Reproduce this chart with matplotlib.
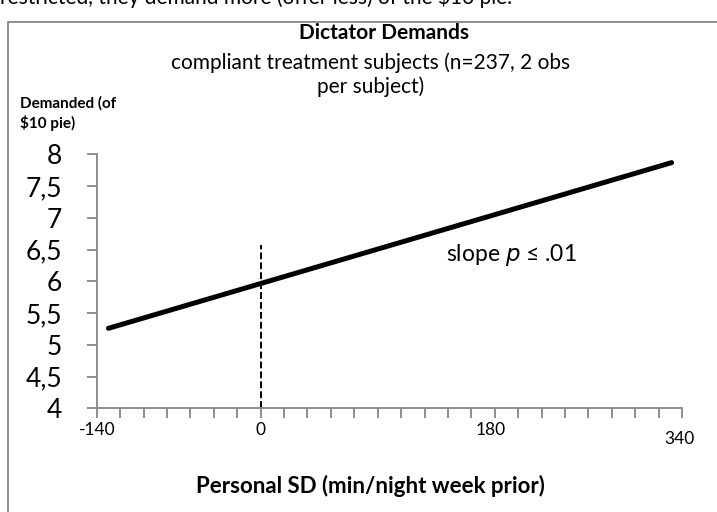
import matplotlib.pyplot as plt
from matplotlib.patches import Rectangle
from matplotlib.transforms import ScaledTranslation

plt.rcParams['font.family'] = ['Lato', 'DejaVu Sans']

# data
fit_x = [-130, 351]
fit_y = [5.26, 7.87]
ref_x = [0, 0]
ref_y = [4, 6.57]

y_ticks = [4, 4.5, 5, 5.5, 6, 6.5, 7, 7.5, 8]
y_labels = ['4', '4,5', '5', '5,5', '6', '6,5', '7', '7,5', '8']
x_major = [-140, 0, 180, 340]
x_labels = ['-140', '0', '180', '340']
x_minor = list(range(-140, 361, 20))

gray = '#868686'

fig = plt.figure(figsize=(7.17, 5.12), dpi=100)
ax = fig.add_axes([0.1349, 0.2025, 0.8165, 0.4960])

ax.plot(fit_x, fit_y, color='black', linewidth=3.6, solid_capstyle='round')
ax.plot(ref_x, ref_y, color='black', linewidth=1.4, linestyle=(0, (3.5, 1.6)))

ax.set_xlim(-140, 360)
ax.set_ylim(4, 8)

ax.set_yticks(y_ticks, y_labels)
ax.set_xticks(x_major, x_labels)
ax.set_xticks(x_minor, minor=True)

for s in ['top', 'right']:
    ax.spines[s].set_visible(False)
for s in ['left', 'bottom']:
    ax.spines[s].set_color(gray)
    ax.spines[s].set_linewidth(1.3)

ax.tick_params(axis='y', which='major', length=7, width=1.3, color=gray,
               labelsize=19, pad=18)
ax.tick_params(axis='x', which='both', length=7, width=1.3, color=gray,
               labelsize=12.5, pad=3)

# the last two x labels sit off their ticks in the original
xl = ax.get_xticklabels()
xl[2].set_transform(xl[2].get_transform() + ScaledTranslation(0.19, 0, fig.dpi_scale_trans))
xl[3].set_transform(xl[3].get_transform() + ScaledTranslation(0.21, -0.09, fig.dpi_scale_trans))

ax.text(158, 6.42, 'slope $\\it{p}$ ≤ .01', fontsize=16.5, va='center', ha='left')

# titles and labels
fig.text(0.536, 0.9355, 'Dictator Demands', fontsize=15, fontweight='bold',
         ha='center', va='center')
fig.text(0.517, 0.8545, 'compliant treatment subjects (n=237, 2 obs\nper subject)',
         fontsize=15, ha='center', va='center', linespacing=1.2)
fig.text(0.028, 0.778, 'Demanded (of\n$10 pie)', fontsize=11, fontweight='bold',
         ha='left', va='center', linespacing=1.35)
fig.text(0.516, 0.05, 'Personal SD (min/night week prior)', fontsize=16,
         fontweight='bold', ha='center', va='center')

# text from the page above, cut off at the top
fig.text(0.0, 1.005, 'restricted, they demand more (offer less) of the $10 pie.',
         fontsize=15, ha='left', va='center')

# chart border
fig.patches.append(Rectangle((8 / 717, -0.05), 1.2, (512 - 22) / 512 + 0.05,
                             transform=fig.transFigure, fill=False,
                             edgecolor=gray, linewidth=1.3))

fig.savefig('out.png', dpi=100)
